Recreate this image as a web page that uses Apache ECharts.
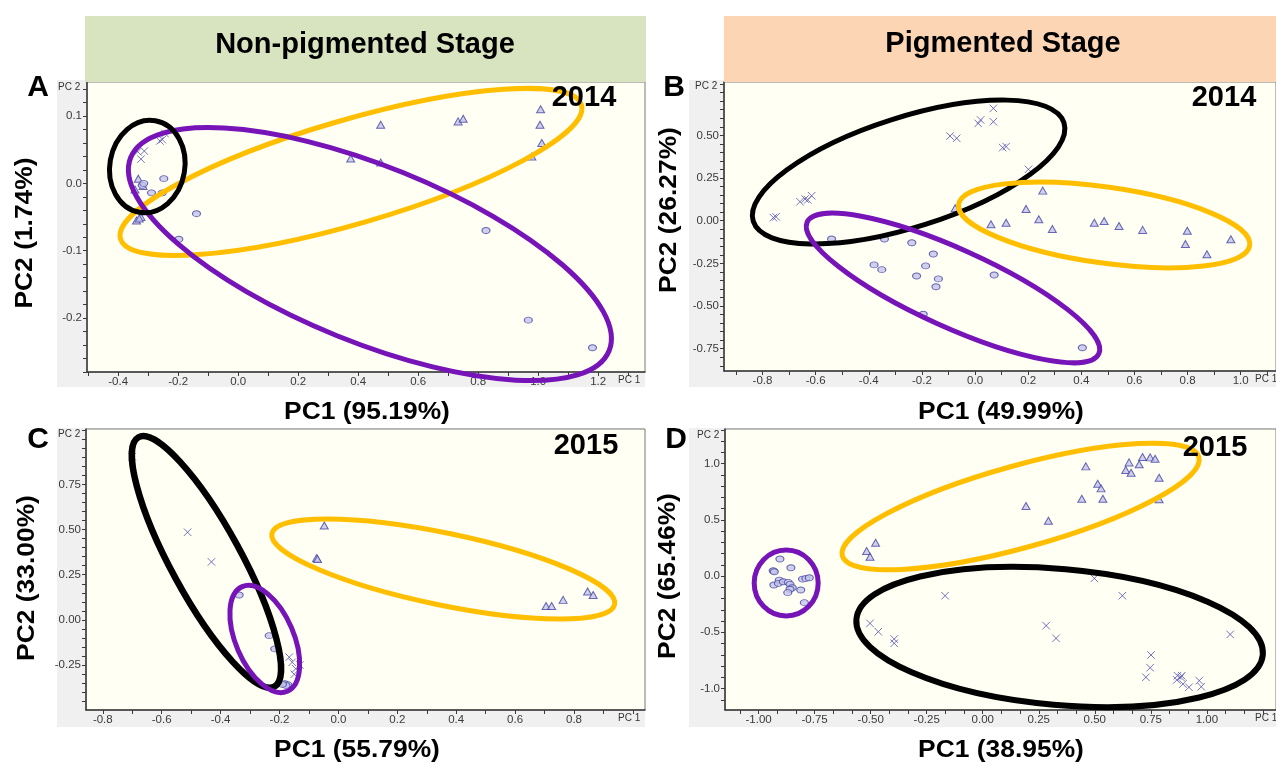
<!DOCTYPE html>
<html>
<head>
<meta charset="utf-8">
<script src="https://cdn.jsdelivr.net/npm/echarts@6/dist/echarts.min.js"></script>
<style>
html,body{margin:0;padding:0;background:#ffffff;}
#chart{width:1276px;height:762px;}
</style>
</head>
<body>
<div id="chart"></div>
<script>
// ---------- PCA scores: [PC1, PC2] ----------
// A: non-pigmented stage, 2014
const aTriangles = [[-0.333,0.007],[-0.344,-0.009],[-0.317,-0.004],[-0.339,-0.055],[-0.324,-0.050],[-0.330,-0.052],
  [0.375,0.037],[0.475,0.087],[0.475,0.031],[0.733,0.092],[0.750,0.096],[1.008,0.110],[1.006,0.087],[1.012,0.060],[0.979,0.040]];
const aCircles = [[-0.248,0.007],[-0.253,-0.014],[-0.289,-0.014],[-0.320,-0.003],[-0.315,0.000],[-0.139,-0.045],
  [-0.198,-0.083],[0.826,-0.070],[0.967,-0.203],[1.181,-0.244]];
const aCrosses = [[-0.261,0.063],[-0.253,0.065],[-0.244,0.074],[-0.335,0.047],[-0.313,0.048],[-0.324,0.036]];

// B: pigmented stage, 2014
const bTriangles = [[0.255,0.176],[0.192,0.069],[0.060,-0.021],[0.117,-0.012],[0.240,0.008],[0.291,-0.049],[0.449,-0.012],
  [0.486,-0.002],[0.542,-0.031],[0.631,-0.054],[0.799,-0.059],[0.792,-0.137],[0.873,-0.197],[0.963,-0.109],[-0.075,0.073]];
const bCircles = [[-0.341,-0.107],[-0.238,-0.129],[-0.157,-0.195],[-0.380,-0.259],[-0.351,-0.287],[-0.186,-0.265],[-0.220,-0.324],
  [-0.138,-0.341],[-0.147,-0.387],[-0.195,-0.548],[-0.540,-0.107],[0.072,-0.318],[0.404,-0.744]];
const bCrosses = [[-0.759,0.018],[-0.749,0.023],[-0.659,0.111],[-0.640,0.127],[-0.630,0.122],[-0.615,0.146],[-0.094,0.496],
  [-0.069,0.483],[0.012,0.570],[0.021,0.590],[0.069,0.658],[0.069,0.580],[0.104,0.428],[0.117,0.434],[0.201,0.301]];

// C: non-pigmented stage, 2015
const cTriangles = [[-0.048,0.522],[-0.074,0.343],[-0.071,0.337],[0.705,0.077],[0.724,0.077],[0.763,0.111],[0.846,0.157],[0.865,0.138]];
const cCircles = [[-0.337,0.138],[-0.235,-0.087],[-0.216,-0.160],[-0.182,-0.352],[-0.172,-0.358],[-0.178,-0.362],[-0.190,-0.356]];
const cCrosses = [[-0.700,0.903],[-0.512,0.485],[-0.431,0.321],[-0.167,-0.206],[-0.157,-0.234],[-0.131,-0.249],[-0.145,-0.270],[-0.150,-0.300]];

// D: pigmented stage, 2015
const dTriangles = [[-0.478,0.296],[-0.518,0.222],[-0.503,0.172],[0.193,0.622],[0.293,0.492],[0.460,0.975],[0.442,0.687],
  [0.513,0.820],[0.528,0.779],[0.536,0.687],[0.638,0.942],[0.653,1.010],[0.662,0.918],[0.698,0.993],[0.713,1.058],
  [0.747,1.055],[0.769,1.043],[0.787,0.874],[0.787,0.682]];
const dCircles = [[-0.905,0.151],[-0.856,0.074],[-0.935,0.047],[-0.930,0.038],[-0.908,-0.036],[-0.932,-0.080],[-0.912,-0.065],
  [-0.890,-0.051],[-0.868,-0.056],[-0.860,-0.074],[-0.850,-0.104],[-0.860,-0.118],[-0.870,-0.148],[-0.812,-0.124],
  [-0.804,-0.027],[-0.789,-0.021],[-0.774,-0.015],[-0.796,-0.237]];
const dCrosses = [[-0.503,-0.421],[-0.466,-0.495],[-0.395,-0.560],[-0.395,-0.598],[-0.168,-0.175],[0.498,-0.021],[0.623,-0.175],
  [0.283,-0.441],[0.327,-0.554],[1.104,-0.519],[0.751,-0.702],[0.747,-0.815],[0.728,-0.900],[0.869,-0.886],[0.884,-0.900],
  [0.888,-0.886],[0.866,-0.924],[0.893,-0.960],[0.920,-0.989],[0.966,-0.930],[0.975,-0.984]];

// ---------- tick labels ----------
const aXTicks = [-0.4,-0.2,0,0.2,0.4,0.6,0.8,1.0,1.2];
const aYTicks = [-0.2,-0.1,0,0.1];
const bXTicks = [-0.8,-0.6,-0.4,-0.2,0,0.2,0.4,0.6,0.8,1.0];
const bYTicks = [-0.75,-0.5,-0.25,0,0.25,0.5];
const cXTicks = [-0.8,-0.6,-0.4,-0.2,0,0.2,0.4,0.6,0.8];
const cYTicks = [-0.25,0,0.25,0.5,0.75];
const dXTicks = [-1,-0.75,-0.5,-0.25,0,0.25,0.5,0.75,1];
const dYTicks = [-1,-0.5,0,0.5,1];

// ---------- text ----------
const stageTitles = ['Non-pigmented Stage', 'Pigmented Stage'];
const panelLetters = ['A', 'B', 'C', 'D'];
const panelYears = ['2014', '2014', '2015', '2015'];
const pc1Titles = ['PC1 (95.19%)', 'PC1 (49.99%)', 'PC1 (55.79%)', 'PC1 (38.95%)'];
const pc2Titles = ['PC2 (1.74%)', 'PC2 (26.27%)', 'PC2 (33.00%)', 'PC2 (65.46%)'];

// ---------- panel geometry and axis settings ----------
const FONT = "'Liberation Sans', Arial, Helvetica, sans-serif";
const GOLD = '#ffbf00', PURPLE = '#7614b8', BLACK = '#000000';

const panels = [
  { grid:{left:87,top:82,width:558,height:290}, frame:[57,80,588,307],
    x:{min:-0.504,max:1.356,labels:aXTicks,minor:0.1,dec:1}, y:{min:-0.280,max:0.1505,labels:aYTicks,minor:0.02,dec:1},
    tri:aTriangles, circ:aCircles, cross:aCrosses,
    letter:[38,88], year:[584,98], pc1:[367,412], pc2:[25,233], pc2tag:[58,87], pc1tag:[618,380],
    rings:[ {c:[0.376,0.017],r:[240,52],deg:16.2,color:GOLD,w:5},
            {c:[0.439,-0.105],r:[258,88],deg:-22,color:PURPLE,w:5},
            {c:[-0.303,0.025],r:[37.5,46.5],deg:-10,color:BLACK,w:5} ] },
  { grid:{left:724,top:82,width:552,height:289}, frame:[689,80,587,307],
    x:{min:-0.945,max:1.133,labels:bXTicks,minor:0.1,dec:1}, y:{min:-0.8805,max:0.8125,labels:bYTicks,minor:0.05,dec:2},
    tri:bTriangles, circ:bCircles, cross:bCrosses,
    letter:[674,88], year:[1224,98], pc1:[1001,412], pc2:[669,210], pc2tag:[695,86], pc1tag:[1255,379],
    rings:[ {c:[-0.250,0.285],r:[163,55],deg:17.6,color:BLACK,w:5},
            {c:[-0.083,-0.394],r:[160,39],deg:-24.3,color:PURPLE,w:5},
            {c:[0.486,-0.025],r:[147,38],deg:-8,color:GOLD,w:5} ] },
  { grid:{left:86,top:429,width:559,height:281}, frame:[57,428,588,299],
    x:{min:-0.857,max:1.041,labels:cXTicks,minor:0.1,dec:1}, y:{min:-0.498,max:1.056,labels:cYTicks,minor:0.05,dec:2},
    tri:cTriangles, circ:cCircles, cross:cCrosses,
    letter:[38,440], year:[586,446], pc1:[357,750], pc2:[27,578], pc2tag:[58,434], pc1tag:[618,718],
    rings:[ {c:[-0.448,0.321],r:[142,35],deg:-61.4,color:BLACK,w:6.5},
            {c:[-0.250,-0.105],r:[57,29],deg:-66.7,color:PURPLE,w:5},
            {c:[0.356,0.282],r:[175,36],deg:-11.7,color:GOLD,w:5} ] },
  { grid:{left:725,top:429,width:551,height:281}, frame:[689,428,587,299],
    x:{min:-1.150,max:1.3085,labels:dXTicks,minor:0.25/3,dec:2}, y:{min:-1.191,max:1.307,labels:dYTicks,minor:0.1,dec:1},
    tri:dTriangles, circ:dCircles, cross:dCrosses,
    letter:[676,440], year:[1215,448], pc1:[1001,750], pc2:[668,576], pc2tag:[697,435], pc1tag:[1255,718],
    rings:[ {c:[-0.877,-0.062],r:[32,33],deg:0,color:PURPLE,w:5},
            {c:[0.169,0.618],r:[185,41],deg:15.5,color:GOLD,w:5},
            {c:[0.343,-0.542],r:[204,68],deg:-5,color:BLACK,w:6} ] }
];

// tick positions at a fixed step inside [min, max]
function tickSteps(min, max, step) {
  const out = [];
  const start = Math.ceil(min / step - 1e-6);
  const end = Math.floor(max / step + 1e-6);
  for (let k = start; k <= end; k++) out.push(+(k * step).toFixed(6));
  return out;
}

function fmt(dec) {
  return function (v) {
    const r = Math.round(v * Math.pow(10, dec)) / Math.pow(10, dec);
    return (r === 0 ? 0 : r).toFixed(dec);
  };
}

function valueAxis(idx, cfg, isX) {
  return {
    type: 'value', gridIndex: idx, min: cfg.min, max: cfg.max,
    splitLine: { show: false },
    axisLine: { show: true, onZero: false, lineStyle: { color: '#3a3a3a', width: 1.5 } },
    axisTick: { show: true, inside: false, length: 4, lineStyle: { color: '#3a3a3a', width: 1 },
                customValues: tickSteps(cfg.min, cfg.max, cfg.minor) },
    axisLabel: { show: true, customValues: cfg.labels, formatter: fmt(cfg.dec),
                 color: '#3a3a3a', fontFamily: FONT, fontSize: 11.5, margin: isX ? 4 : 5,
                 showMinLabel: true, showMaxLabel: true, hideOverlap: false }
  };
}

const ink = { color: '#c4c4ea', borderColor: '#4343a3', borderWidth: 1 };
function scatter(idx, data, kind) {
  const s = { type: 'scatter', xAxisIndex: idx, yAxisIndex: idx, data: data, z: 3, silent: true, clip: false };
  if (kind === 'tri') return Object.assign(s, { symbol: 'triangle', symbolSize: [8, 7], itemStyle: ink });
  if (kind === 'circ') return Object.assign(s, { symbol: 'circle', symbolSize: [8, 6], itemStyle: ink });
  return Object.assign(s, { symbol: 'path://M0,0L10,10M10,0L0,10', symbolSize: 7.5,
    itemStyle: { color: 'none', borderColor: '#5151b3', borderWidth: 1 } });
}

const option = {
  backgroundColor: '#ffffff',
  animation: false,
  grid: panels.map(p => Object.assign({ show: true, backgroundColor: '#fffff4', borderColor: '#7a7a7a', borderWidth: 1, containLabel: false }, p.grid)),
  xAxis: panels.map((p, i) => valueAxis(i, p.x, true)),
  yAxis: panels.map((p, i) => valueAxis(i, p.y, false)),
  series: []
};
panels.forEach((p, i) => {
  option.series.push(scatter(i, p.tri, 'tri'), scatter(i, p.circ, 'circ'), scatter(i, p.cross, 'cross'));
});

const chart = echarts.init(document.getElementById('chart'), null, { renderer: 'canvas' });
chart.setOption(option);

// ---------- frames, headers, titles and group outlines ----------
const g = [];
panels.forEach((p, i) => {
  g.push({ type: 'rect', z: -10, silent: true, shape: { x: p.frame[0], y: p.frame[1], width: p.frame[2], height: p.frame[3] },
           style: { fill: '#f0f0f0' } });
});

// stage header bars
g.push({ type: 'rect', z: 5, silent: true, shape: { x: 85, y: 16, width: 561, height: 66 }, style: { fill: '#d8e4bf' } });
g.push({ type: 'rect', z: 5, silent: true, shape: { x: 724, y: 16, width: 552, height: 66 }, style: { fill: '#fcd5b4' } });
g.push({ type: 'text', z: 20, silent: true, x: 365, y: 45,
         style: { text: stageTitles[0], align: 'center', verticalAlign: 'middle', fill: '#000', font: 'bold 29px ' + FONT } });
g.push({ type: 'text', z: 20, silent: true, x: 1003, y: 44,
         style: { text: stageTitles[1], align: 'center', verticalAlign: 'middle', fill: '#000', font: 'bold 29px ' + FONT } });

panels.forEach((p, i) => {
  // group outlines, centred on data coordinates
  p.rings.forEach(r => {
    const c = chart.convertToPixel({ xAxisIndex: i, yAxisIndex: i }, r.c);
    g.push({ type: 'ellipse', z: 10, silent: true, x: c[0], y: c[1], rotation: r.deg * Math.PI / 180,
             shape: { cx: 0, cy: 0, rx: r.r[0], ry: r.r[1] },
             style: { fill: 'none', stroke: r.color, lineWidth: r.w } });
  });
  g.push({ type: 'text', z: 20, silent: true, x: p.letter[0], y: p.letter[1],
           style: { text: panelLetters[i], align: 'center', verticalAlign: 'middle', fill: '#000', font: 'bold 30px ' + FONT } });
  g.push({ type: 'text', z: 20, silent: true, x: p.year[0], y: p.year[1],
           style: { text: panelYears[i], align: 'center', verticalAlign: 'middle', fill: '#000', font: 'bold 29px ' + FONT } });
  // axis titles: slightly widened bold sans
  g.push({ type: 'text', z: 20, silent: true, x: p.pc1[0], y: p.pc1[1], scaleX: 1.1,
           style: { text: pc1Titles[i], align: 'center', verticalAlign: 'middle', fill: '#000', font: 'bold 24px ' + FONT } });
  g.push({ type: 'text', z: 20, silent: true, x: p.pc2[0], y: p.pc2[1], rotation: Math.PI / 2, scaleX: 1.1,
           style: { text: pc2Titles[i], align: 'center', verticalAlign: 'middle', fill: '#000', font: 'bold 24px ' + FONT } });
  g.push({ type: 'text', z: 20, silent: true, x: p.pc2tag[0], y: p.pc2tag[1],
           style: { text: 'PC 2', align: 'left', verticalAlign: 'middle', fill: '#333', font: '10px ' + FONT } });
  g.push({ type: 'text', z: 20, silent: true, x: p.pc1tag[0], y: p.pc1tag[1],
           style: { text: 'PC 1', align: 'left', verticalAlign: 'middle', fill: '#333', font: '10px ' + FONT } });
});

chart.setOption({ graphic: { elements: g } });
</script>
</body>
</html>
